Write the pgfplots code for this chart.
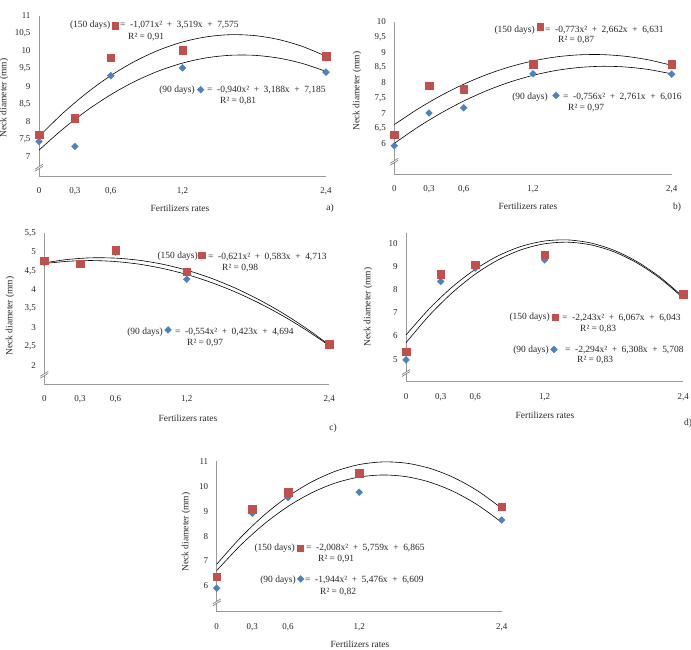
\documentclass[border=0pt]{standalone}
\usepackage{fontspec}
\setmainfont{Liberation Serif}
\usepackage{pgfplots}
\pgfplotsset{compat=1.18}
\definecolor{red150}{HTML}{C0504D}
\definecolor{blue90}{HTML}{4F81BD}
\newcommand{\txt}{\fontsize{9.5}{11}\selectfont}
% regression equation with the loose spacing of the original labels
\newcommand{\gap}{\hspace{4.6bp}}
\newcommand{\eqn}[3]{=\gap#1x²\gap+\gap#2x\gap+\gap#3}

\pgfplotsset{
  panel/.style={
    scale only axis, anchor=south west, clip=false,
    xmin=0, xmax=2.4,
    axis x line=bottom, axis y line=left,
    axis line style={-, draw=black!40, line width=0.7bp},
    major tick length=0pt,
    xtick={0,0.3,0.6,1.2,2.4},
    xticklabels={0,{0,3},{0,6},{1,2},{2,4}},
    tick label style={font=\fontsize{9}{10}\selectfont, text=black!85},
    xticklabel style={yshift=-8bp},
    yticklabel style={xshift=-5bp},
    /pgf/number format/assume math mode=true,
  },
  trend/.style={black, line width=0.6bp, smooth, mark=none},
  d90/.style={only marks, mark=square*, mark size=2.4bp,
    mark options={rotate=45, fill=blue90, draw=blue90}},
  d150/.style={only marks, mark=square*, mark size=3.8bp,
    mark options={fill=red150, draw=red150}},
  k90/.style={only marks, mark=square*, mark size=2.4bp,
    mark options={rotate=45, fill=blue90, draw=blue90}},
  k150/.style={only marks, mark=square*, mark size=3.1bp,
    mark options={fill=red150, draw=red150}},
}

\tikzset{
  lab/.style={font=\txt, inner sep=0pt, text=black!85},
  ylab/.style={lab, rotate=90},
  brk/.style={draw=black!55, line width=0.6bp},
}

% axis break sign on the y axis, centred at (#1,#2) in bp from the top left corner
\newcommand{\ybreak}[2]{%
  \fill[white] (#1bp-3bp,-#2bp-2.5bp) -- (#1bp+3bp,-#2bp+1.2bp) -- (#1bp+3bp,-#2bp+3.2bp) -- (#1bp-3bp,-#2bp-0.5bp) -- cycle;
  \draw[brk] (#1bp-4bp,-#2bp-3.2bp) -- (#1bp+4bp,-#2bp+1.8bp);
  \draw[brk] (#1bp-4bp,-#2bp-1.2bp) -- (#1bp+4bp,-#2bp+3.8bp);
}

\begin{document}
\begin{tikzpicture}
\useasboundingbox (0,0) rectangle (691bp,-650bp);

% ---------------- a) ----------------
\begin{axis}[panel, at={(39bp,-176bp)}, width=287bp, height=160.2bp,
  ymin=6.45, ymax=11,
  ytick={7,7.5,8,8.5,9,9.5,10,10.5,11},
  yticklabels={7,{7,5},8,{8,5},9,{9,5},10,{10,5},11}]
\addplot[trend] coordinates {(0,7.575)(0.2,8.236)(0.4,8.811)(0.6,9.301)(0.8,9.705)(1.0,10.023)(1.2,10.256)(1.4,10.402)(1.6,10.464)(1.8,10.439)(2.0,10.329)(2.2,10.133)(2.4,9.852)};
\addplot[trend] coordinates {(0,7.185)(0.2,7.785)(0.4,8.310)(0.6,8.759)(0.8,9.134)(1.0,9.433)(1.2,9.657)(1.4,9.806)(1.6,9.879)(1.8,9.878)(2.0,9.801)(2.2,9.649)(2.4,9.422)};
\addplot[d90] coordinates {(0,7.43)(0.3,7.29)(0.6,9.30)(1.2,9.52)(2.4,9.40)};
\addplot[d150] coordinates {(0,7.62)(0.3,8.10)(0.6,9.81)(1.2,10.03)(2.4,9.86)};
\addplot[k150] coordinates {(0.635,10.72)};
\addplot[k90] coordinates {(1.352,8.90)};
\end{axis}
\ybreak{39}{168}
\node[lab, anchor=east] at (110.5bp,-25.5bp) {(150 days)};
\node[lab, anchor=west] at (120bp,-25.5bp) {\eqn{-1,071}{3,519}{7,575}};
\node[lab, anchor=west] at (128bp,-37.5bp) {R² = 0,91};
\node[lab, anchor=east] at (195bp,-90bp) {(90 days)};
\node[lab, anchor=west] at (207bp,-90bp) {\eqn{-0,940}{3,188}{7,185}};
\node[lab, anchor=west] at (220bp,-101.5bp) {R² = 0,81};
\node[ylab] at (4bp,-98bp) {Neck diameter (mm)};
\node[lab] at (180bp,-208bp) {Fertilizers rates};
\node[lab] at (330bp,-208bp) {a)};

% ---------------- b) ----------------
\begin{axis}[panel, at={(394.3bp,-174.5bp)}, width=277.4bp, height=153bp,
  ymin=5, ymax=10,
  ytick={6,6.5,7,7.5,8,8.5,9,9.5,10},
  yticklabels={6,{6,5},7,{7,5},8,{8,5},9,{9,5},10}]
\addplot[trend] coordinates {(0,6.631)(0.2,7.132)(0.4,7.572)(0.6,7.950)(0.8,8.266)(1.0,8.520)(1.2,8.712)(1.4,8.843)(1.6,8.911)(1.8,8.918)(2.0,8.863)(2.2,8.746)(2.4,8.567)};
\addplot[trend] coordinates {(0,6.016)(0.2,6.538)(0.4,6.999)(0.6,7.400)(0.8,7.741)(1.0,8.021)(1.2,8.241)(1.4,8.400)(1.6,8.498)(1.8,8.536)(2.0,8.514)(2.2,8.431)(2.4,8.288)};
\addplot[d90] coordinates {(0,5.94)(0.3,7.01)(0.6,7.18)(1.2,8.29)(2.4,8.28)};
\addplot[d150] coordinates {(0,6.30)(0.3,7.90)(0.6,7.79)(1.2,8.61)(2.4,8.61)};
\addplot[k150] coordinates {(1.260,9.83)};
\addplot[k90] coordinates {(1.399,7.58)};
\end{axis}
\ybreak{394.3}{162}
\node[lab, anchor=east] at (535bp,-30bp) {(150 days)};
\node[lab, anchor=west] at (545bp,-30bp) {\eqn{-0,773}{2,662}{6,631}};
\node[lab, anchor=west] at (558bp,-40.5bp) {R² = 0,87};
\node[lab, anchor=east] at (548bp,-97.5bp) {(90 days)};
\node[lab, anchor=west] at (563bp,-97.5bp) {\eqn{-0,756}{2,761}{6,016}};
\node[lab, anchor=west] at (568bp,-108.5bp) {R² = 0,97};
\node[ylab] at (357bp,-91bp) {Neck diameter (mm)};
\node[lab] at (528bp,-206bp) {Fertilizers rates};
\node[lab] at (677bp,-207bp) {b)};

% ---------------- c) ----------------
\begin{axis}[panel, at={(44.3bp,-384bp)}, width=285bp, height=150.8bp,
  ymin=1.5, ymax=5.5,
  ytick={2,2.5,3,3.5,4,4.5,5,5.5},
  yticklabels={2,{2,5},3,{3,5},4,{4,5},5,{5,5}}]
\addplot[trend] coordinates {(0,4.713)(0.2,4.805)(0.4,4.847)(0.6,4.839)(0.8,4.782)(1.0,4.675)(1.2,4.518)(1.4,4.312)(1.6,4.056)(1.8,3.750)(2.0,3.395)(2.2,2.990)(2.4,2.535)};
\addplot[trend] coordinates {(0,4.694)(0.2,4.756)(0.4,4.775)(0.6,4.748)(0.8,4.678)(1.0,4.563)(1.2,4.404)(1.4,4.200)(1.6,3.953)(1.8,3.660)(2.0,3.324)(2.2,2.943)(2.4,2.518)};
\addplot[d90] coordinates {(0,4.72)(0.3,4.68)(0.6,5.00)(1.2,4.28)(2.4,2.55)};
\addplot[d150] coordinates {(0,4.77)(0.3,4.69)(0.6,5.05)(1.2,4.48)(2.4,2.56)};
\addplot[k150] coordinates {(1.325,4.92)};
\addplot[k90] coordinates {(1.042,2.935)};
\end{axis}
\ybreak{44.3}{375}
\node[lab, anchor=east] at (198bp,-256.7bp) {(150 days)};
\node[lab, anchor=west] at (208bp,-256.7bp) {\eqn{-0,621}{0,583}{4,713}};
\node[lab, anchor=west] at (222bp,-267.7bp) {R² = 0,98};
\node[lab, anchor=east] at (163bp,-332.3bp) {(90 days)};
\node[lab, anchor=west] at (175bp,-332.3bp) {\eqn{-0,554}{0,423}{4,694}};
\node[lab, anchor=west] at (187bp,-342.8bp) {R² = 0,97};
\node[ylab] at (10bp,-316bp) {Neck diameter (mm)};
\node[lab] at (188bp,-418bp) {Fertilizers rates};
\node[lab] at (333bp,-428bp) {c)};

% ---------------- d) ----------------
\begin{axis}[panel, at={(406bp,-381.7bp)}, width=277.2bp, height=148.5bp,
  ymin=4.03, ymax=10.43,
  ytick={5,6,7,8,9,10}]
\addplot[trend] coordinates {(0,6.043)(0.2,7.167)(0.4,8.111)(0.6,8.876)(0.8,9.461)(1.0,9.867)(1.2,10.093)(1.4,10.141)(1.6,10.008)(1.8,9.696)(2.0,9.205)(2.2,8.534)(2.4,7.684)};
\addplot[trend] coordinates {(0,5.708)(0.2,6.878)(0.4,7.864)(0.6,8.667)(0.8,9.286)(1.0,9.722)(1.2,9.974)(1.4,10.043)(1.6,9.928)(1.8,9.630)(2.0,9.148)(2.2,8.483)(2.4,7.634)};
\addplot[d90] coordinates {(0,4.97)(0.3,8.35)(0.6,8.92)(1.2,9.28)(2.4,7.74)};
\addplot[d150] coordinates {(0,5.33)(0.3,8.66)(0.6,9.07)(1.2,9.50)(2.4,7.80)};
\addplot[k150] coordinates {(1.290,6.82)};
\addplot[k90] coordinates {(1.281,5.42)};
\end{axis}
\ybreak{406}{373.3}
\node[lab, anchor=east] at (550bp,-317.7bp) {(150 days)};
\node[lab, anchor=west] at (562bp,-317.7bp) {\eqn{-2,243}{6,067}{6,043}};
\node[lab, anchor=west] at (580bp,-329bp) {R² = 0,83};
\node[lab, anchor=east] at (549bp,-350bp) {(90 days)};
\node[lab, anchor=west] at (565bp,-350bp) {\eqn{-2,294}{6,308}{5,708}};
\node[lab, anchor=west] at (577bp,-360.5bp) {R² = 0,83};
\node[ylab] at (368bp,-307bp) {Neck diameter (mm)};
\node[lab] at (545bp,-415.7bp) {Fertilizers rates};
\node[lab, anchor=west] at (684bp,-423bp) {d)};

% ---------------- e) ----------------
\begin{axis}[panel, at={(216.7bp,-611.7bp)}, width=285bp, height=151bp,
  ymin=4.95, ymax=11.04,
  ytick={6,7,8,9,10,11}]
\addplot[trend] coordinates {(0,6.865)(0.2,7.936)(0.4,8.847)(0.6,9.598)(0.8,10.187)(1.0,10.616)(1.2,10.884)(1.4,10.992)(1.6,10.939)(1.8,10.725)(2.0,10.351)(2.2,9.816)(2.4,9.121)};
\addplot[trend] coordinates {(0,6.609)(0.2,7.626)(0.4,8.488)(0.6,9.195)(0.8,9.746)(1.0,10.141)(1.2,10.381)(1.4,10.465)(1.6,10.394)(1.8,10.167)(2.0,9.785)(2.2,9.247)(2.4,8.554)};
\addplot[d90] coordinates {(0,5.90)(0.3,8.92)(0.6,9.56)(1.2,9.77)(2.4,8.65)};
\addplot[d150] coordinates {(0,6.36)(0.3,9.08)(0.6,9.77)(1.2,10.53)(2.4,9.19)};
\addplot[k150] coordinates {(0.701,7.52)};
\addplot[k90] coordinates {(0.707,6.27)};
\end{axis}
\ybreak{216.7}{602.7}
\node[lab, anchor=east] at (295bp,-548.3bp) {(150 days)};
\node[lab, anchor=west] at (306bp,-548.3bp) {\eqn{-2,008}{5,759}{6,865}};
\node[lab, anchor=west] at (318bp,-559.3bp) {R² = 0,91};
\node[lab, anchor=east] at (296bp,-580bp) {(90 days)};
\node[lab, anchor=west] at (305bp,-580bp) {\eqn{-1,944}{5,476}{6,609}};
\node[lab, anchor=west] at (320bp,-591.7bp) {R² = 0,82};
\node[ylab] at (186bp,-532bp) {Neck diameter (mm)};
\node[lab] at (360bp,-644bp) {Fertilizers rates};
\end{tikzpicture}
\end{document}
